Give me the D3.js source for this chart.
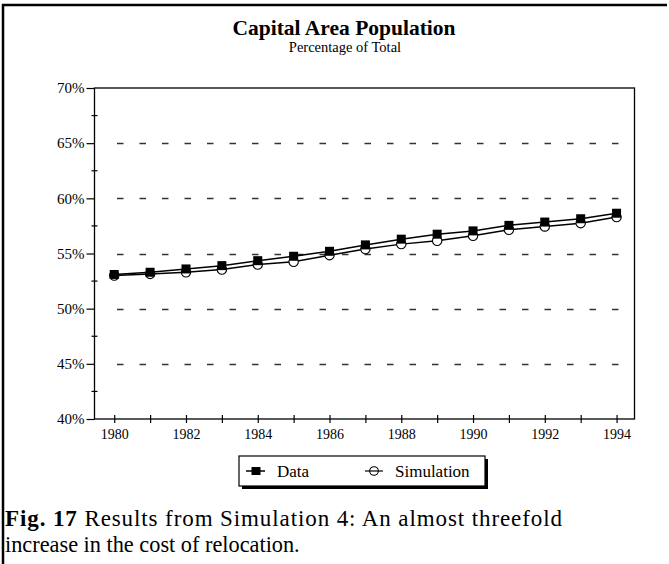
<!DOCTYPE html>
<html>
<head>
<meta charset="utf-8">
<script src="https://cdn.jsdelivr.net/npm/d3@7"></script>
<style>
  html, body { margin: 0; padding: 0; background: #fff; }
  svg { display: block; }
  text { font-family: "Liberation Serif", "Times New Roman", serif; fill: #000; }
</style>
</head>
<body>
<svg id="chart" width="669" height="564"></svg>
<script>
const years = [1980,1981,1982,1983,1984,1985,1986,1987,1988,1989,1990,1991,1992,1993,1994];
const dataValues = [53.1,53.3,53.6,53.9,54.35,54.75,55.2,55.78,56.3,56.75,57.05,57.55,57.85,58.15,58.65];
const simValues  = [53.0,53.15,53.3,53.55,54.0,54.25,54.85,55.4,55.85,56.15,56.6,57.15,57.45,57.75,58.3];
const yTicks = [40,45,50,55,60,65,70];
const xLabelYears = [1980,1982,1984,1986,1988,1990,1992,1994];
const titleText = "Capital Area Population";
const subtitleText = "Percentage of Total";
const legendNames = ["Data","Simulation"];

const svg = d3.select("#chart");
const L = 94.5, R = 634.5, T = 88, B = 419;

const x = d3.scaleLinear().domain([1979.45, 1994.5]).range([L, R]);
const y = d3.scaleLinear().domain([40, 70]).range([B, T]);

// outer frame
svg.append("line").attr("x1",2).attr("x2",667).attr("y1",5).attr("y2",5).attr("stroke","#000").attr("stroke-width",2.5);
svg.append("line").attr("x1",3).attr("x2",3).attr("y1",4).attr("y2",564).attr("stroke","#000").attr("stroke-width",2.5);

// titles
svg.append("text").attr("x",344).attr("y",35).attr("text-anchor","middle")
  .style("font-weight","bold").style("font-size","21.5px").text(titleText);
svg.append("text").attr("x",345).attr("y",52).attr("text-anchor","middle")
  .style("font-size","14.5px").text(subtitleText);

// plot border
svg.append("rect").attr("x",L).attr("y",T).attr("width",R-L).attr("height",B-T)
  .attr("fill","none").attr("stroke","#000").attr("stroke-width",1.3);

// dashed gridlines
const grid = svg.append("g");
grid.selectAll("line").data(yTicks.filter(d => d > 40 && d < 70)).join("line")
  .attr("x1", 117).attr("x2", 620)
  .attr("y1", d => Math.round(y(d)) + 0.5).attr("y2", d => Math.round(y(d)) + 0.5)
  .attr("stroke", "#333").attr("stroke-width", 1.3)
  .attr("stroke-dasharray", "6.5,16");

// y axis
const yAxis = d3.axisLeft(y).tickValues(yTicks).tickFormat(d => d + "%").tickSize(8).tickPadding(2);
const gy = svg.append("g").attr("transform", `translate(${L},0)`).call(yAxis);
gy.select(".domain").remove();
gy.selectAll("text").style("font-family","Liberation Serif, serif").style("font-size","15px").attr("fill","#000");
gy.selectAll("line").attr("stroke","#000").attr("stroke-width",1.2);
// minor y ticks
const minorY = d3.range(42.5, 70, 5);
svg.append("g").selectAll("line").data(minorY).join("line")
  .attr("x1", L-3).attr("x2", L+3)
  .attr("y1", d => y(d)).attr("y2", d => y(d))
  .attr("stroke","#000").attr("stroke-width",1.2);

// x axis
const xAxis = d3.axisBottom(x).tickValues(years).tickSize(4).tickPadding(6)
  .tickFormat(d => xLabelYears.includes(d) ? d : "");
const gx = svg.append("g").attr("transform", `translate(0,${B})`).call(xAxis);
gx.select(".domain").remove();
gx.selectAll(".tick line").attr("y1",-4).attr("y2",4).attr("stroke","#000").attr("stroke-width",1.2);
gx.selectAll("text").style("font-family","Liberation Serif, serif").style("font-size","14px").attr("fill","#000");

// lines
const lineGen = vals => d3.line().x((d,i) => x(years[i])).y(d => y(d))(vals);
svg.append("path").attr("d", lineGen(simValues)).attr("fill","none").attr("stroke","#000").attr("stroke-width",1.5);
svg.append("path").attr("d", lineGen(dataValues)).attr("fill","none").attr("stroke","#000").attr("stroke-width",1.5);

// simulation markers (open circles)
svg.append("g").selectAll("circle").data(simValues).join("circle")
  .attr("cx", (d,i) => x(years[i])).attr("cy", d => y(d)).attr("r", 4.7)
  .attr("fill","#fff").attr("stroke","#000").attr("stroke-width",1.1);
// data markers (filled squares)
svg.append("g").selectAll("rect").data(dataValues).join("rect")
  .attr("x", (d,i) => x(years[i]) - 4.5).attr("y", d => y(d) - 4.5)
  .attr("width", 9).attr("height", 9).attr("fill","#000");

// legend
const lg = svg.append("g");
lg.append("rect").attr("x",242).attr("y",459).attr("width",246).attr("height",30).attr("fill","#000");
lg.append("rect").attr("x",239).attr("y",456).attr("width",246).attr("height",30).attr("fill","#fff").attr("stroke","#000").attr("stroke-width",1.2);
lg.append("line").attr("x1",246).attr("x2",265).attr("y1",471).attr("y2",471).attr("stroke","#000").attr("stroke-width",1.5);
lg.append("rect").attr("x",251.5).attr("y",467).attr("width",9).attr("height",8).attr("fill","#000");
lg.append("text").attr("x",277).attr("y",476.5).style("font-size","17px").text(legendNames[0]);
lg.append("line").attr("x1",365).attr("x2",383).attr("y1",471).attr("y2",471).attr("stroke","#000").attr("stroke-width",1.2);
lg.append("circle").attr("cx",374).attr("cy",471).attr("r",4.3).attr("fill","none").attr("stroke","#000").attr("stroke-width",1.1);
lg.append("text").attr("x",395).attr("y",476.5).style("font-size","17px").text(legendNames[1]);

// caption (first line stretched to the text block width)
const cap1 = svg.append("text").attr("x",5).attr("y",526).style("font-size","23px")
  .attr("textLength", 557).attr("lengthAdjust", "spacing");
cap1.append("tspan").style("font-weight","bold").text("Fig. 17");
cap1.append("tspan").text(" Results from Simulation 4: An almost threefold");
svg.append("text").attr("x",5).attr("y",552).style("font-size","22.3px").text("increase in the cost of relocation.");
</script>
</body>
</html>
